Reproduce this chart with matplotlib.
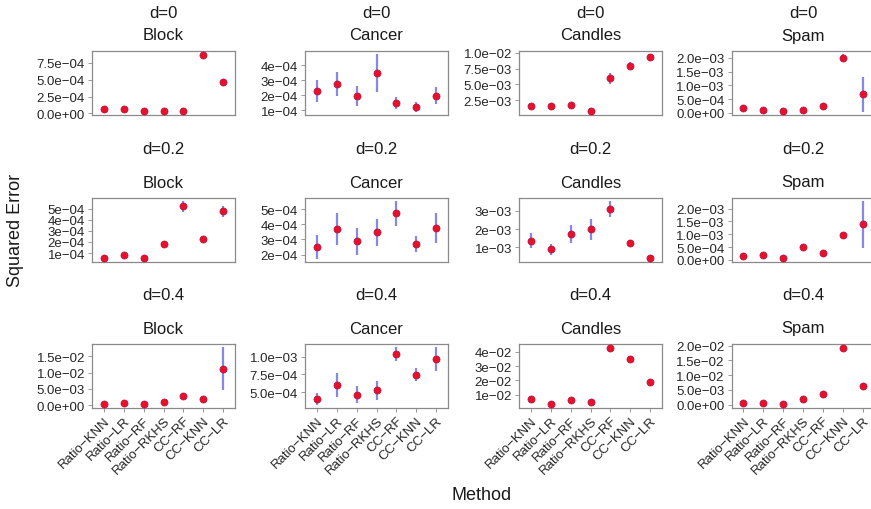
import matplotlib
matplotlib.use("Agg")
import matplotlib.pyplot as plt

plt.rcParams['font.family'] = ['Liberation Sans', 'DejaVu Sans']

methods = ["Ratio\u2212KNN", "Ratio\u2212LR", "Ratio\u2212RF", "Ratio\u2212RKHS",
           "CC\u2212RF", "CC\u2212KNN", "CC\u2212LR"]
datasets = ["Block", "Cancer", "Candles", "Spam"]
shifts = ["d=0", "d=0.2", "d=0.4"]

# mean squared error per (shift, dataset), one value per method
mse_d0_block = [6.3e-5, 6.0e-5, 3.6e-5, 3.5e-5, 3.5e-5, 8.7e-4, 4.6e-4]
mse_d0_cancer = [2.26e-4, 2.76e-4, 1.93e-4, 3.47e-4, 1.48e-4, 1.23e-4, 1.96e-4]
mse_d0_candles = [1.50e-3, 1.61e-3, 1.72e-3, 0.78e-3, 5.95e-3, 7.95e-3, 9.33e-3]
mse_d0_spam = [1.64e-4, 1.1e-4, 0.9e-4, 1.1e-4, 2.5e-4, 1.99e-3, 6.7e-4]

mse_d2_block = [0.56e-4, 0.81e-4, 0.55e-4, 1.78e-4, 5.19e-4, 2.24e-4, 4.75e-4]
mse_d2_cancer = [2.53e-4, 3.70e-4, 2.88e-4, 3.48e-4, 4.72e-4, 2.70e-4, 3.76e-4]
mse_d2_candles = [1.35e-3, 0.89e-3, 1.73e-3, 1.98e-3, 3.11e-3, 1.24e-3, 0.42e-3]
mse_d2_spam = [1.43e-4, 1.7e-4, 0.63e-4, 5.16e-4, 2.62e-4, 9.76e-4, 1.39e-3]

mse_d4_block = [2.5e-4, 5.0e-4, 3.0e-4, 8.3e-4, 2.9e-3, 1.78e-3, 1.125e-2]
mse_d4_cancer = [4.08e-4, 6.02e-4, 4.62e-4, 5.25e-4, 1.033e-3, 7.45e-4, 9.7e-4]
mse_d4_candles = [7.0e-3, 3.5e-3, 6.2e-3, 5.0e-3, 4.28e-2, 3.52e-2, 1.86e-2]
mse_d4_spam = [0.6e-3, 0.6e-3, 0.1e-3, 2.0e-3, 3.57e-3, 1.92e-2, 6.3e-3]

# half-length of the error bars
err_d0_block = [1e-5, 1e-5, 8e-6, 8e-6, 8e-6, 1.5e-5, 1.5e-5]
err_d0_cancer = [0.72e-4, 0.79e-4, 0.66e-4, 1.27e-4, 0.38e-4, 0.33e-4, 0.58e-4]
err_d0_candles = [0.15e-3, 0.15e-3, 0.15e-3, 0.12e-3, 0.83e-3, 0.6e-3, 0.5e-3]
err_d0_spam = [2e-5, 1.5e-5, 1.5e-5, 1.5e-5, 3e-5, 1.5e-4, 6.2e-4]

err_d2_block = [5e-6, 6e-6, 5e-6, 1e-5, 0.5e-4, 0.15e-4, 0.5e-4]
err_d2_cancer = [0.79e-4, 1.04e-4, 0.88e-4, 0.90e-4, 0.82e-4, 0.54e-4, 0.97e-4]
err_d2_candles = [0.42e-3, 0.30e-3, 0.50e-3, 0.58e-3, 0.44e-3, 0.17e-3, 0.05e-3]
err_d2_spam = [2e-5, 2e-5, 1.5e-5, 3e-5, 3e-5, 6e-5, 9.1e-4]

err_d4_block = [1e-4, 1e-4, 1e-4, 1.5e-4, 2e-4, 2e-4, 6.7e-3]
err_d4_cancer = [0.85e-4, 1.65e-4, 1.2e-4, 1.3e-4, 1.0e-4, 0.95e-4, 1.67e-4]
err_d4_candles = [0.3e-3, 0.3e-3, 0.3e-3, 0.3e-3, 0.5e-3, 0.4e-3, 0.4e-3]
err_d4_spam = [1e-4, 1e-4, 1e-4, 1.5e-4, 2e-4, 4e-4, 5e-4]

# y-axis breaks per panel
ticks_d0 = [[0, 2.5e-4, 5e-4, 7.5e-4], [1e-4, 2e-4, 3e-4, 4e-4],
            [2.5e-3, 5e-3, 7.5e-3, 1e-2], [0, 5e-4, 1e-3, 1.5e-3, 2e-3]]
ticks_d2 = [[1e-4, 2e-4, 3e-4, 4e-4, 5e-4], [2e-4, 3e-4, 4e-4, 5e-4],
            [1e-3, 2e-3, 3e-3], [0, 5e-4, 1e-3, 1.5e-3, 2e-3]]
ticks_d4 = [[0, 5e-3, 1e-2, 1.5e-2], [5e-4, 7.5e-4, 1e-3],
            [1e-2, 2e-2, 3e-2, 4e-2], [0, 5e-3, 1e-2, 1.5e-2, 2e-2]]

mse = [[mse_d0_block, mse_d0_cancer, mse_d0_candles, mse_d0_spam],
       [mse_d2_block, mse_d2_cancer, mse_d2_candles, mse_d2_spam],
       [mse_d4_block, mse_d4_cancer, mse_d4_candles, mse_d4_spam]]
err = [[err_d0_block, err_d0_cancer, err_d0_candles, err_d0_spam],
       [err_d2_block, err_d2_cancer, err_d2_candles, err_d2_spam],
       [err_d4_block, err_d4_cancer, err_d4_candles, err_d4_spam]]
ticks = [ticks_d0, ticks_d2, ticks_d4]


def sci_label(v, decimals):
    s = f"{v:.{decimals}e}"
    mant, exp = s.split("e")
    sign = "\u2212" if exp[0] == "-" else "+"
    return f"{mant}e{sign}{exp[1:].zfill(2)}"


def needs_decimal(values):
    for v in values:
        mant = float(f"{v:e}".split("e")[0])
        if abs(mant - round(mant)) > 1e-9:
            return 1
    return 0


W, H = 871, 510
fig = plt.figure(figsize=(W / 100, H / 100), dpi=100)

col_left = [92, 305, 519, 731.5]
panel_w = 143
row_top = [52, 199, 345]
panel_h = 63.5
strip_y = [(14, 36), (150, 183), (296, 329)]

edge = "#8a8a8a"
text_col = "#1a1a1a"
tick_col = "#262626"

for r in range(3):
    for c in range(4):
        x0, y0 = col_left[c], row_top[r]
        ax = fig.add_axes([x0 / W, (H - y0 - panel_h) / H, panel_w / W, panel_h / H])
        y = mse[r][c]
        e = err[r][c]
        xs = list(range(len(methods)))
        ax.errorbar(xs, y, yerr=e, fmt="none", ecolor="#6060d8", elinewidth=1.6,
                    alpha=0.75, capsize=0, zorder=2)
        ax.scatter(xs, y, s=26, color="#e8102a", edgecolor="#b01040",
                   linewidth=0.5, zorder=3)
        lo = min(a - b for a, b in zip(y, e))
        hi = max(a + b for a, b in zip(y, e))
        pad = (hi - lo) * 0.05
        ax.set_ylim(lo - pad, hi + pad)
        ax.set_xlim(-0.6, len(methods) - 0.4)
        tk = ticks[r][c]
        dec = needs_decimal(tk)
        ax.set_yticks(tk)
        ax.set_yticklabels([sci_label(t, dec) for t in tk], fontsize=9.5, color=tick_col)
        if r == 2:
            ax.set_xticks(xs)
            ax.set_xticklabels(methods, rotation=45, ha="right", va="top",
                               rotation_mode="anchor", fontsize=9.5, color=tick_col)
        else:
            ax.set_xticks([])
        ax.tick_params(axis="both", length=3, width=0.6, color=edge, pad=2)
        for sp in ax.spines.values():
            sp.set_color(edge)
            sp.set_linewidth(0.9)
        cx = (x0 + panel_w / 2) / W
        fig.text(cx, 1 - strip_y[r][0] / H, shifts[r], ha="center", va="center",
                 fontsize=12, color=text_col)
        fig.text(cx, 1 - strip_y[r][1] / H, datasets[c], ha="center", va="center",
                 fontsize=12, color=text_col)

fig.text(482 / W, 1 - 496 / H, "Method", ha="center", va="center", fontsize=13, color=text_col)
fig.text(16 / W, 1 - 230 / H, "Squared Error", ha="center", va="center", rotation=90,
         fontsize=13, color=text_col)

fig.savefig("out.png", dpi=100)
